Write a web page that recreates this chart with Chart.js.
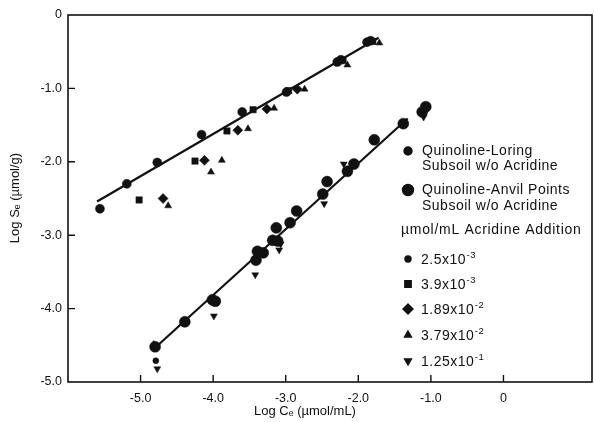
<!DOCTYPE html>
<html>
<head>
<meta charset="utf-8">
<script src="https://cdn.jsdelivr.net/npm/chart.js@4"></script>
<style>
  html, body { margin: 0; padding: 0; background: #fff; }
  canvas { display: block; }
</style>
</head>
<body>
<canvas id="chart" width="594" height="422"></canvas>
<script>
// Quinoline sorption isotherms (log-log)
const loringX = [-5.56, -5.19, -4.77, -4.16, -3.60, -2.99, -2.29, -2.24, -1.88, -1.83];
const loringY = [-2.64, -2.30, -2.01, -1.63, -1.32, -1.05, -0.64, -0.61, -0.37, -0.35];

const anvilX = [-4.80, -4.39, -4.01, -3.97, -3.41, -3.39, -3.31, -3.18, -3.13, -3.11, -2.94, -2.85, -2.49, -2.43, -2.15, -2.06, -1.78, -1.38, -1.12, -1.07];
const anvilY = [-4.52, -4.18, -3.88, -3.90, -3.34, -3.22, -3.24, -3.07, -2.90, -3.08, -2.83, -2.67, -2.44, -2.27, -2.13, -2.03, -1.70, -1.48, -1.32, -1.25];

// acridine additions (umol/mL)
const acr25X = [-4.79];
const acr25Y = [-4.71];
const acr39X = [-5.02, -4.25, -3.81, -3.45, -2.96, -2.21, -1.80];
const acr39Y = [-2.52, -1.99, -1.58, -1.29, -1.03, -0.62, -0.36];
const acr189X = [-4.69, -4.12, -3.66, -3.26, -2.84];
const acr189Y = [-2.50, -1.98, -1.57, -1.28, -1.01];
const acr379X = [-4.62, -4.03, -3.88, -3.52, -3.16, -2.74, -2.15, -1.71, -4.82];
const acr379Y = [-2.60, -2.14, -1.98, -1.55, -1.27, -1.01, -0.68, -0.38, -4.49];
const acr125X = [-4.77, -3.99, -3.42, -3.09, -3.07, -2.47, -2.20, -1.10];
const acr125Y = [-4.82, -4.10, -3.54, -3.20, -3.12, -2.57, -2.03, -1.39];

// fitted lines (end points)
const fitLoringX = [-5.60, -1.72];
const fitLoringY = [-2.54, -0.31];
const fitAnvilX = [-4.83, -1.32];
const fitAnvilY = [-4.56, -1.41];

const xTicks = [-5, -4, -3, -2, -1, 0];
const yTicks = [-1, -2, -3, -4];

const FONT = "'Liberation Sans', Arial, Helvetica, sans-serif";
const INK = '#111';

const pts = (xs, ys) => xs.map((x, i) => ({ x, y: ys[i] }));

function marks(label, xs, ys, style, radius, rotation) {
  return {
    label,
    data: pts(xs, ys),
    pointStyle: style,
    pointRadius: radius,
    pointRotation: rotation || 0,
    backgroundColor: INK,
    borderColor: INK,
    borderWidth: 0.5,
    showLine: false
  };
}

function fit(label, xs, ys) {
  return {
    label,
    data: pts(xs, ys),
    showLine: true,
    borderColor: INK,
    borderWidth: 2.2,
    pointRadius: 0,
    fill: false
  };
}

function tickLabel(v) {
  return v === 0 ? '0' : v.toFixed(1);
}

// frame, inward ticks, axis titles and the legend
const decor = {
  id: 'decor',
  afterDraw(chart) {
    const ctx = chart.ctx;
    const a = chart.chartArea;
    const xs = chart.scales.x, ys = chart.scales.y;
    ctx.save();
    ctx.strokeStyle = INK;
    ctx.lineWidth = 1.6;
    ctx.strokeRect(a.left, a.top, a.right - a.left, a.bottom - a.top);

    ctx.lineWidth = 1.4;
    ctx.beginPath();
    xTicks.forEach(v => {
      const px = xs.getPixelForValue(v);
      ctx.moveTo(px, a.bottom);
      ctx.lineTo(px, a.bottom - 7);
    });
    yTicks.forEach(v => {
      const py = ys.getPixelForValue(v);
      ctx.moveTo(a.left, py);
      ctx.lineTo(a.left + 7, py);
    });
    ctx.stroke();

    ctx.fillStyle = INK;
    ctx.textBaseline = 'middle';

    // x title
    ctx.font = '13px ' + FONT;
    ctx.textAlign = 'center';
    ctx.fillText('Log Cₑ (µmol/mL)', 305, 411);

    // y title
    ctx.save();
    ctx.translate(15, 198);
    ctx.rotate(-Math.PI / 2);
    ctx.fillText('Log Sₑ (µmol/g)', 0, 0);
    ctx.restore();

    // legend
    ctx.textAlign = 'left';
    ctx.letterSpacing = '0.5px';
    const dot = (style, r, x, y, rot) => {
      Chart.helpers.drawPoint(ctx, { pointStyle: style, radius: r, rotation: rot || 0, borderWidth: 0.5 }, x, y);
    };
    ctx.strokeStyle = INK;
    ctx.font = '14px ' + FONT;
    dot('circle', 4, 408, 151);
    ctx.fillText('Quinoline-Loring', 422, 151);
    ctx.fillText('Subsoil w/o Acridine', 422, 166);
    dot('circle', 5.5, 408, 190);
    ctx.fillText('Quinoline-Anvil Points', 422, 190);
    ctx.fillText('Subsoil w/o Acridine', 422, 206);
    ctx.letterSpacing = '0.7px';
    ctx.fillText('µmol/mL Acridine Addition', 401, 230);
    ctx.letterSpacing = '0.5px';

    const rows = [
      ['circle', 3, 0, '2.5x10', '-3', 259],
      ['rect', 4.5, 0, '3.9x10', '-3', 284],
      ['rectRot', 5, 0, '1.89x10', '-2', 309],
      ['triangle', 4, 0, '3.79x10', '-2', 335],
      ['triangle', 4, 180, '1.25x10', '-1', 361]
    ];
    rows.forEach(([style, r, rot, base, exp, y]) => {
      dot(style, r, 408, y, rot);
      ctx.font = '14px ' + FONT;
      ctx.fillText(base, 421, y + 1);
      const w = ctx.measureText(base).width;
      ctx.font = '9.5px ' + FONT;
      ctx.fillText(exp, 421 + w + 0.5, y - 4);
    });
    ctx.restore();
  }
};

new Chart(document.getElementById('chart'), {
  type: 'scatter',
  data: {
    datasets: [
      fit('Loring fit', fitLoringX, fitLoringY),
      fit('Anvil Points fit', fitAnvilX, fitAnvilY),
      marks('Quinoline-Loring Subsoil w/o Acridine', loringX, loringY, 'circle', 4.5),
      marks('Quinoline-Anvil Points Subsoil w/o Acridine', anvilX, anvilY, 'circle', 5.5),
      marks('2.5x10-3', acr25X, acr25Y, 'circle', 3),
      marks('3.9x10-3', acr39X, acr39Y, 'rect', 4.5),
      marks('1.89x10-2', acr189X, acr189Y, 'rectRot', 5),
      marks('3.79x10-2', acr379X, acr379Y, 'triangle', 4),
      marks('1.25x10-1', acr125X, acr125Y, 'triangle', 4, 180)
    ]
  },
  options: {
    responsive: false,
    animation: false,
    events: [],
    layout: { autoPadding: false, padding: { top: 15, right: 2, left: 0, bottom: 0 } },
    plugins: { legend: { display: false }, tooltip: { enabled: false } },
    scales: {
      x: {
        type: 'linear',
        min: -6,
        max: 1.22,
        afterFit: s => { s.height = 40; s.paddingLeft = 0; s.paddingRight = 0; },
        afterBuildTicks: s => { s.ticks = xTicks.map(v => ({ value: v })); },
        grid: { display: false, drawTicks: false },
        border: { display: false },
        ticks: {
          color: INK,
          padding: 9,
          font: { family: FONT, size: 12.5 },
          callback: v => tickLabel(v)
        }
      },
      y: {
        type: 'linear',
        min: -5,
        max: 0,
        afterFit: s => { s.width = 68; s.paddingTop = 0; s.paddingBottom = 0; },
        afterBuildTicks: s => { s.ticks = [0, -1, -2, -3, -4, -5].map(v => ({ value: v })); },
        grid: { display: false, drawTicks: false },
        border: { display: false },
        ticks: {
          color: INK,
          padding: 6,
          font: { family: FONT, size: 12.5 },
          callback: v => tickLabel(v)
        }
      }
    }
  },
  plugins: [decor]
});
</script>
</body>
</html>
